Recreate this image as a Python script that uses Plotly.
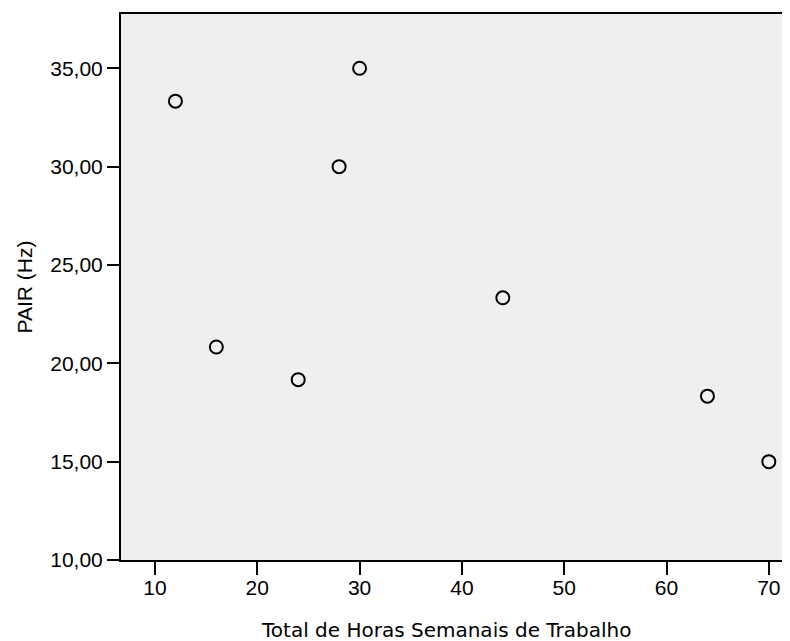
import plotly.graph_objects as go

horas = [12, 16, 24, 28, 30, 44, 64, 70]
pair_hz = [33.33, 20.83, 19.17, 30.00, 35.00, 23.33, 18.33, 15.00]
y_ticks = [10, 15, 20, 25, 30, 35]
y_tick_labels = ["10,00", "15,00", "20,00", "25,00", "30,00", "35,00"]
x_ticks = [10, 20, 30, 40, 50, 60, 70]
x_title = "Total de Horas Semanais de Trabalho"
y_title = "PAIR (Hz)"

fig = go.Figure()
fig.add_trace(go.Scatter(
    x=horas, y=pair_hz, mode="markers",
    marker=dict(symbol="circle-open", size=13, color="black", line=dict(width=2, color="black")),
    showlegend=False, hoverinfo="x+y",
))

fig.add_annotation(
    text=x_title, xref="paper", yref="paper", x=0.486, y=-0.128,
    xanchor="center", yanchor="middle", showarrow=False,
    font=dict(family="DejaVu Sans", size=20, color="black"),
)

fig.update_layout(
    width=782, height=633,
    margin=dict(l=113, r=0, t=6, b=81),
    paper_bgcolor="white",
    plot_bgcolor="#efefef",
    font=dict(family="Liberation Sans, Arial, sans-serif", size=21, color="black"),
    xaxis=dict(
        range=[6.68, 72.07], tickvals=x_ticks, ticks="outside", ticklen=13, tickwidth=2,
        tickcolor="black", showline=True, linecolor="black", linewidth=2, mirror=True,
        showgrid=False, zeroline=False, ticklabelstandoff=-5, automargin=False,
    ),
    yaxis=dict(
        range=[10, 37.76], tickvals=y_ticks, ticktext=y_tick_labels, ticks="outside",
        ticklen=12, tickwidth=2, tickcolor="black", showline=True, linecolor="black",
        linewidth=2, showgrid=False, zeroline=False, automargin=False,
        title=dict(text=y_title, font=dict(family="Liberation Sans, Arial", size=21), standoff=12),
    ),
)

fig.write_html("out.html")
